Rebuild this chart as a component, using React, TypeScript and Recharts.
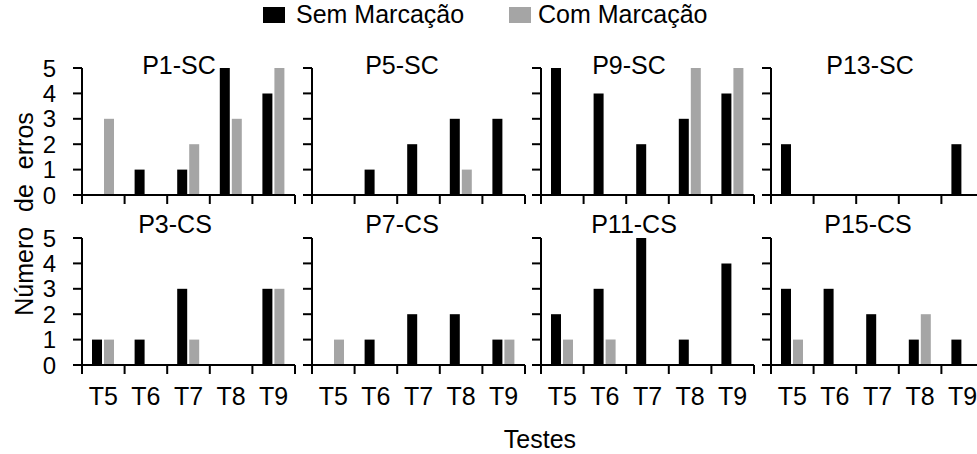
import React from 'react';
import { BarChart, Bar, XAxis, YAxis } from 'recharts';

// categories and values
const tests = ['T5', 'T6', 'T7', 'T8', 'T9'];
const panelNames = ['P1-SC', 'P5-SC', 'P9-SC', 'P13-SC', 'P3-CS', 'P7-CS', 'P11-CS', 'P15-CS'];
const semMarcacao = [
  [0, 1, 1, 5, 4],
  [0, 1, 2, 3, 3],
  [5, 4, 2, 3, 4],
  [2, 0, 0, 0, 2],
  [1, 1, 3, 0, 3],
  [0, 1, 2, 2, 1],
  [2, 3, 5, 1, 4],
  [3, 3, 2, 1, 1],
];
const comMarcacao = [
  [3, 0, 2, 3, 5],
  [0, 0, 0, 1, 0],
  [0, 0, 0, 5, 5],
  [0, 0, 0, 0, 0],
  [1, 0, 1, 0, 3],
  [1, 0, 0, 0, 1],
  [1, 1, 0, 0, 0],
  [1, 0, 0, 2, 0],
];
const yTicks = [0, 1, 2, 3, 4, 5];
const legendLabels = ['Sem Marcação', 'Com Marcação'];

// layout
const FONT = '"Liberation Sans", Arial, sans-serif';
const COL_LEFT = [82, 312, 541, 771];
const ROW_TOP = [68, 238];
const PLOT_W = 213;
const PLOT_H = 127;
const Y_W = 60;
const PAD_TOP = 24;
const PAD_RIGHT = 10;
const X_H = 50;
const BAND = PLOT_W / tests.length;
const TITLE_X = [179, 402, 629, 870, 175, 402, 634, 868];
const TITLE_BASE = [74, 233];
const BLACK = '#000000';
const GREY = '#a5a5a5';

const XTick = ({ x, y, payload, index, showLabel }: any) => {
    const half = BAND / 2;
    return (
        <g>
            <line x1={x - half} x2={x - half} y1={y} y2={y + 9} stroke={BLACK} strokeWidth={2} />
            {index === tests.length - 1 && (
                <line x1={x + half} x2={x + half} y1={y} y2={y + 9} stroke={BLACK} strokeWidth={2} />
            )}
            {showLabel && (
                <text x={x} y={y + 40} textAnchor="middle" fontSize={25} fontFamily={FONT} fill={BLACK}>
                    {payload.value}
                </text>
            )}
        </g>
    );
};

const YTick = ({ x, y, payload, showLabel }: any) => {
    if (!showLabel) return null;
    return (
        <text x={x} y={y + 8.5} textAnchor="end" fontSize={24} fontFamily={FONT} fill={BLACK}>
            {payload.value}
        </text>
    );
};

const Panel = ({ idx }: { idx: number }) => {
    const col = idx % 4;
    const row = Math.floor(idx / 4);
    const data = tests.map((t, i) => ({ teste: t, sem: semMarcacao[idx][i], com: comMarcacao[idx][i] }));
    return (
        <div style={{ position: 'absolute', left: COL_LEFT[col] - Y_W, top: ROW_TOP[row] - PAD_TOP }}>
            <BarChart
                width={Y_W + PLOT_W + PAD_RIGHT}
                height={PAD_TOP + PLOT_H + X_H}
                data={data}
                margin={{ top: PAD_TOP, right: PAD_RIGHT, left: 0, bottom: 0 }}
                barSize={10}
                barGap={2}
            >
                <XAxis
                    dataKey="teste"
                    height={X_H}
                    interval={0}
                    tickSize={0}
                    tickMargin={0}
                    tickLine={false}
                    axisLine={{ stroke: BLACK, strokeWidth: 2 }}
                    tick={<XTick showLabel={row === 1} />}
                />
                <YAxis
                    width={Y_W}
                    domain={[0, 5]}
                    ticks={yTicks}
                    interval={0}
                    tickSize={9}
                    tickMargin={17}
                    axisLine={{ stroke: BLACK, strokeWidth: 2 }}
                    tickLine={{ stroke: BLACK, strokeWidth: 2 }}
                    tick={<YTick showLabel={col === 0} />}
                />
                <Bar dataKey="sem" fill={BLACK} isAnimationActive={false} />
                <Bar dataKey="com" fill={GREY} isAnimationActive={false} />
            </BarChart>
        </div>
    );
};

export default function App() {
    return (
        <div
            style={{
                position: 'absolute',
                left: 0,
                top: 0,
                width: 977,
                height: 454,
                overflow: 'hidden',
                background: '#fff',
                fontFamily: FONT,
            }}
        >
            {panelNames.map((_, i) => (
                <Panel key={i} idx={i} />
            ))}
            <svg
                width={977}
                height={454}
                style={{ position: 'absolute', left: 0, top: 0, pointerEvents: 'none' }}
                fontFamily={FONT}
            >
                {/* legend */}
                <rect x={263} y={7} width={22} height={16} fill={BLACK} />
                <text x={296} y={23} fontSize={25} fill={BLACK}>{legendLabels[0]}</text>
                <rect x={509} y={7} width={22} height={16} fill={GREY} />
                <text x={538} y={23} fontSize={25} fill={BLACK}>{legendLabels[1]}</text>

                {/* panel titles */}
                {panelNames.map((name, i) => (
                    <text
                        key={name}
                        x={TITLE_X[i]}
                        y={TITLE_BASE[Math.floor(i / 4)]}
                        textAnchor="middle"
                        fontSize={25}
                        fill={BLACK}
                    >
                        {name}
                    </text>
                ))}

                {/* axis titles */}
                <text
                    x={33}
                    y={214}
                    transform="rotate(-90 33 214)"
                    textAnchor="middle"
                    fontSize={25}
                    wordSpacing={8}
                    fill={BLACK}
                >
                    Número de erros
                </text>
                <text x={540} y={448} textAnchor="middle" fontSize={25} fill={BLACK}>
                    Testes
                </text>
            </svg>
        </div>
    );
}
